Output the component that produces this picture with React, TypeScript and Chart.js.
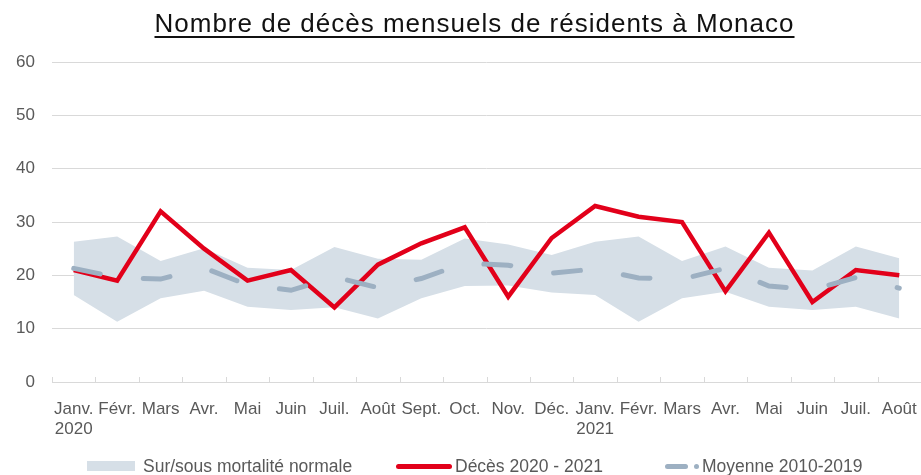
import React, { useEffect, useRef } from "react";
import { Chart, registerables } from "chart.js";

Chart.register(...registerables);

const categories: (string | string[])[] = [
  ["Janv.", "2020"], "Févr.", "Mars", "Avr.", "Mai", "Juin", "Juil.", "Août",
  "Sept.", "Oct.", "Nov.", "Déc.",
  ["Janv.", "2021"], "Févr.", "Mars", "Avr.", "Mai", "Juin", "Juil.", "Août",
];

const deces = [21, 19, 32, 25, 19, 21, 14, 22, 26, 29, 16, 27, 33, 31, 30, 17, 28, 15, 21, 20];

const moyenne = [21.3, 19.6, 19.3, 21.4, 18.2, 17.2, 19.7, 17.7, 19.4, 22.3, 21.9, 20.4,
  21.2, 19.5, 19.3, 21.3, 18.0, 17.3, 19.6, 17.6];

const bandHigh = [26.3, 27.3, 22.7, 25.1, 21.4, 21.0, 25.3, 23.1, 22.9, 26.9, 25.8, 23.8,
  26.3, 27.3, 22.7, 25.4, 21.4, 20.9, 25.4, 23.2];

const bandLow = [16.3, 11.3, 15.7, 17.1, 14.1, 13.5, 14.0, 11.9, 15.7, 18.0, 18.1, 16.8,
  16.3, 11.3, 15.7, 16.9, 14.1, 13.5, 14.1, 11.9];

const yTicks = { min: 0, max: 60, step: 10 };

const title = "Nombre de décès mensuels de résidents à Monaco";
const legendLabels = ["Sur/sous mortalité normale", "Décès 2020 - 2021", "Moyenne 2010-2019"];

const RED = "#e2001a";
const GREY = "#9db0c2";
const BAND = "#d6dfe7";
const TEXT = "#595959";
const FONT = "'Liberation Sans', Arial, Helvetica, sans-serif";

const innerTicks = {
  id: "innerTicks",
  afterDraw(chart: any) {
    const x = chart.scales.x;
    const area = chart.chartArea;
    const ctx = chart.ctx;
    ctx.save();
    ctx.strokeStyle = "#d9d9d9";
    ctx.lineWidth = 1;
    for (let i = 0; i <= categories.length; i++) {
      const px = Math.round(x.getPixelForValue(i - 0.5)) + 0.5;
      ctx.beginPath();
      ctx.moveTo(px, area.bottom);
      ctx.lineTo(px, area.bottom - 5);
      ctx.stroke();
    }
    ctx.restore();
  },
};

export default function App() {
  const ref = useRef<HTMLCanvasElement | null>(null);

  useEffect(() => {
    if (!ref.current) return;
    const chart = new Chart(ref.current, {
      type: "line",
      data: {
        labels: categories as any,
        datasets: [
          {
            label: "low",
            data: bandLow,
            borderWidth: 0,
            pointRadius: 0,
            fill: false,
            order: 3,
            borderColor: "rgba(0,0,0,0)",
          },
          {
            label: legendLabels[0],
            data: bandHigh,
            borderWidth: 0,
            pointRadius: 0,
            fill: "-1",
            backgroundColor: BAND,
            borderColor: "rgba(0,0,0,0)",
            order: 2,
          },
          {
            label: legendLabels[1],
            data: deces,
            borderColor: RED,
            borderWidth: 4.5,
            pointRadius: 0,
            tension: 0,
            fill: false,
            order: 1,
          },
          {
            label: legendLabels[2],
            data: moyenne,
            borderColor: GREY,
            borderWidth: 5,
            borderDash: [27, 43.5],
            borderCapStyle: "round",
            pointRadius: 0,
            tension: 0,
            fill: false,
            order: 0,
          },
        ],
      },
      options: {
        animation: false,
        responsive: false,
        devicePixelRatio: 1,
        layout: { padding: { top: 62, left: 0, right: 0, bottom: 38 } },
        plugins: {
          legend: { display: false },
          title: { display: false },
          tooltip: { enabled: false },
        },
        scales: {
          x: {
            offset: true,
            grid: {
              display: true,
              drawOnChartArea: false,
              drawTicks: true,
              tickLength: 18,
              color: "rgba(0,0,0,0)",
              tickColor: "rgba(0,0,0,0)",
            },
            border: { display: true, color: "#d9d9d9", width: 1 },
            ticks: {
              autoSkip: false,
              maxRotation: 0,
              minRotation: 0,
              padding: 0,
              color: TEXT,
              font: { family: FONT, size: 17, lineHeight: 1.15 },
            },
            afterFit(scale: any) {
              scale.height = 55;
            },
          },
          y: {
            min: yTicks.min,
            max: yTicks.max,
            grid: { color: "#d9d9d9", lineWidth: 1, drawTicks: false },
            border: { display: false },
            ticks: {
              stepSize: yTicks.step,
              padding: 17,
              color: TEXT,
              font: { family: FONT, size: 17 },
            },
            afterFit(scale: any) {
              scale.width = 52;
            },
          },
        },
      },
      plugins: [innerTicks],
    });
    return () => chart.destroy();
  }, []);

  const textStyle: React.CSSProperties = {
    position: "absolute",
    top: 456,
    height: 20,
    lineHeight: "20px",
    fontFamily: FONT,
    fontSize: 17.5,
    color: TEXT,
    whiteSpace: "nowrap",
  };

  return (
    <div style={{ position: "fixed", left: 0, top: 0, width: 921, height: 475, background: "#fff", overflow: "hidden" }}>
      <canvas ref={ref} width={921} height={475} style={{ position: "absolute", left: 0, top: 0, width: 921, height: 475 }} />
      <div
        style={{
          position: "absolute",
          left: 0,
          top: 8,
          width: 949,
          textAlign: "center",
          fontFamily: FONT,
          fontSize: 26,
          lineHeight: "30px",
          letterSpacing: "1px",
          color: "#111",
          textDecoration: "underline",
          textDecorationThickness: "2px",
          textUnderlineOffset: "4px",
          whiteSpace: "nowrap",
        }}
      >
        {title}
      </div>
      <div style={{ position: "absolute", left: 87, top: 461, width: 48, height: 10, background: BAND }} />
      <div style={{ ...textStyle, left: 143 }}>{legendLabels[0]}</div>
      <div style={{ position: "absolute", left: 396, top: 463.5, width: 56, height: 5, borderRadius: 3, background: RED }} />
      <div style={{ ...textStyle, left: 455 }}>{legendLabels[1]}</div>
      <div style={{ position: "absolute", left: 665, top: 463.5, width: 23, height: 5, borderRadius: 3, background: GREY }} />
      <div style={{ position: "absolute", left: 694, top: 463.5, width: 5, height: 5, borderRadius: 3, background: GREY }} />
      <div style={{ ...textStyle, left: 702 }}>{legendLabels[2]}</div>
    </div>
  );
}
